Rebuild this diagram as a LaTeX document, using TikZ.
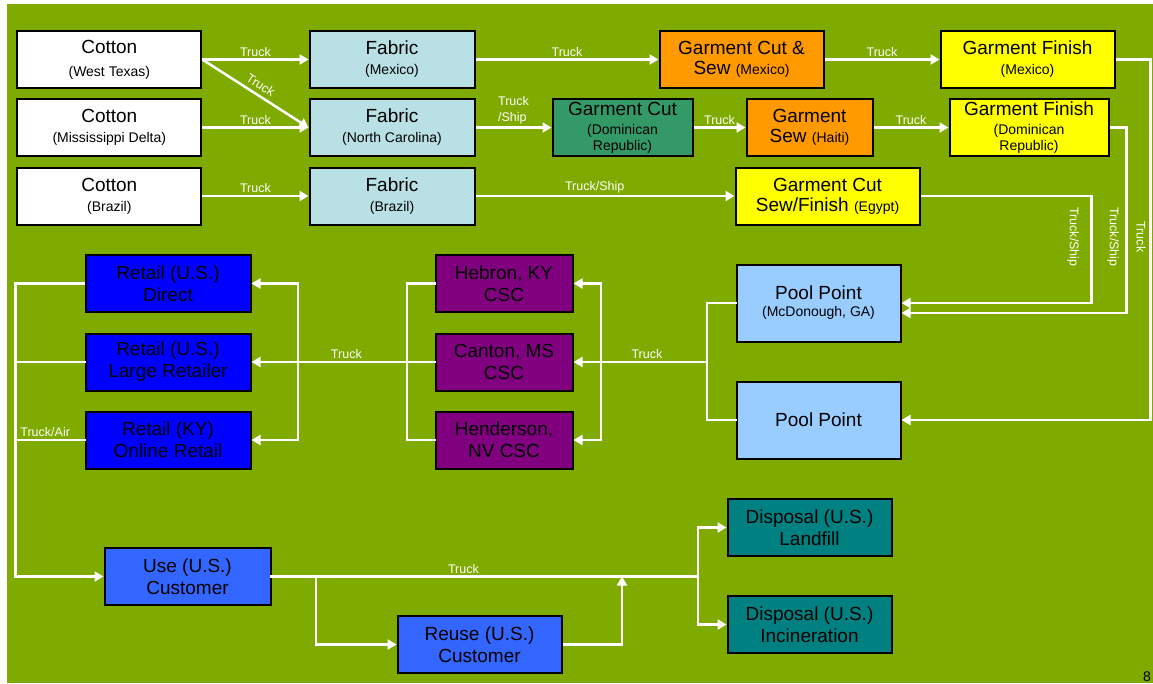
\documentclass[tikz,border=0pt]{standalone}
\usepackage{fontspec}
\setmainfont{Liberation Sans}
\usetikzlibrary{arrows.meta}
\definecolor{bg}{RGB}{127,170,0}
\definecolor{fabric}{RGB}{185,224,228}
\definecolor{orng}{RGB}{255,153,0}
\definecolor{yel}{RGB}{255,255,0}
\definecolor{dgreen}{RGB}{51,153,102}
\definecolor{pool}{RGB}{153,204,255}
\definecolor{purp}{RGB}{128,0,128}
\definecolor{rblue}{RGB}{0,0,255}
\definecolor{ublue}{RGB}{51,102,255}
\definecolor{teal2}{RGB}{0,128,128}
\newcommand\subt{\fontsize{14}{16}\selectfont}
\begin{document}
\begin{tikzpicture}[x=1pt,y=-1pt,
  box/.style={draw=black, line width=2pt, inner sep=0pt, align=center,
    font=\fontsize{19}{20}\selectfont, minimum height=57pt},
  flow/.style={draw=white, line width=2.5pt, -{Triangle[length=9pt,width=10pt]}},
  link/.style={draw=white, line width=2.5pt, line cap=rect},
  lbl/.style={text=white, font=\fontsize{12.5}{14}\selectfont, inner sep=2pt}]
\fill[white] (0,0) rectangle (1153,683);
\fill[bg] (7,4) rectangle (1153,683);
\useasboundingbox (0,0) rectangle (1153,683);

% nodes
\node[box, fill=white, minimum width=184] (cWT) at (109.3,59.5) {Cotton\\[3pt]{\subt (West Texas)}};
\node[box, fill=white, minimum width=184] (cMD) at (109.3,127.5) {Cotton\\{\subt (Mississippi Delta)}};
\node[box, fill=white, minimum width=184] (cBR) at (109.3,196) {Cotton\\{\subt (Brazil)}};
\node[box, fill=fabric, minimum width=165] (fMX) at (392,59.5) {Fabric\\{\subt (Mexico)}};
\node[box, fill=fabric, minimum width=165] (fNC) at (392,127.5) {Fabric\\{\subt (North Carolina)}};
\node[box, fill=fabric, minimum width=165] (fBR) at (392,196) {Fabric\\{\subt (Brazil)}};
\node[box, fill=orng, minimum width=164] (gcsMX) at (741.5,59.5) {Garment Cut \&\\Sew {\subt (Mexico)}};
\node[box, fill=yel, minimum width=174] (gfMX) at (1027.5,59.5) {Garment Finish\\{\subt (Mexico)}};
\node[box, fill=dgreen, minimum width=140] (gcDR) at (622.5,127.5) {Garment Cut\\[-1pt]{\subt (Dominican}\\[-4pt]{\subt Republic)}};
\node[box, fill=orng, minimum width=126] (gsHT) at (809.5,127.5) {Garment\\Sew {\subt (Haiti)}};
\node[box, fill=yel, minimum width=159] (gfDR) at (1029,127.5) {Garment Finish\\[-1pt]{\subt (Dominican}\\[-4pt]{\subt Republic)}};
\node[box, fill=yel, minimum width=184] (gEG) at (827.5,196) {Garment Cut\\Sew/Finish {\subt (Egypt)}};
\node[box, fill=pool, minimum width=164, minimum height=77] (pp1) at (818.5,303) {Pool Point\\[-3pt]{\subt (McDonough, GA)}};
\node[box, fill=pool, minimum width=164, minimum height=77] (pp2) at (818.5,420) {Pool Point};
\node[box, fill=purp, minimum width=137] (hebron) at (504,283.5) {Hebron, KY\\[2pt]CSC};
\node[box, fill=purp, minimum width=137] (canton) at (504,362) {Canton, MS\\[2pt]CSC};
\node[box, fill=purp, minimum width=137] (henderson) at (504,440) {Henderson,\\[2pt]NV CSC};
\node[box, fill=rblue, minimum width=165] (rDirect) at (168,283.5) {Retail (U.S.)\\[2pt]Direct};
\node[box, fill=rblue, minimum width=165] (rLarge) at (168,362) {Retail (U.S.)\\[2pt]Large Retailer};
\node[box, fill=rblue, minimum width=165] (rOnline) at (168,440) {Retail (KY)\\[2pt]Online Retail};
\node[box, fill=ublue, minimum width=166] (use) at (187.5,576.5) {Use (U.S.)\\[2pt]Customer};
\node[box, fill=ublue, minimum width=164] (reuse) at (479.5,644.5) {Reuse (U.S.)\\[2pt]Customer};
\node[box, fill=teal2, minimum width=164] (dLand) at (809.5,527.5) {Disposal (U.S.)\\[2pt]Landfill};
\node[box, fill=teal2, minimum width=164] (dInc) at (809.5,624.5) {Disposal (U.S.)\\[2pt]Incineration};
\node[font=\fontsize{14}{16}\selectfont, inner sep=0pt, anchor=base] (pgnum) at (1147,681) {8};

% coordinates
\coordinate (pj) at (707,362);
\coordinate (cv) at (601,362);
\coordinate (rj) at (407,362);
\coordinate (rv) at (298,362);
\coordinate (lb) at (15.5,576.5);
\coordinate (uj) at (316,576.5);
\coordinate (rr) at (622,576.5);
\coordinate (dj) at (698,576.5);

% top rows
\draw[flow] (cWT.east) -- node[lbl, above]{Truck} (fMX.west);
\draw[flow] (cWT.east) -- node[lbl, above=2pt, sloped]{Truck} (fNC.west);
\draw[flow] (cMD.east) -- node[lbl, above]{Truck} (fNC.west);
\draw[flow] (cBR.east) -- node[lbl, above]{Truck} (fBR.west);
\draw[flow] (fMX.east) -- node[lbl, above]{Truck} (gcsMX.west);
\draw[flow] (gcsMX.east) -- node[lbl, above]{Truck} (gfMX.west);
\draw[flow] (fNC.east) -- node[lbl, above, align=left, font=\fontsize{12.5}{16}\selectfont]{Truck\\/Ship} (gcDR.west);
\draw[flow] (gcDR.east) -- node[lbl, above]{Truck} (gsHT.west);
\draw[flow] (gsHT.east) -- node[lbl, above]{Truck} (gfDR.west);
\draw[flow] (fBR.east) -- node[lbl, above, pos=0.46]{Truck/Ship} (gEG.west);

% right returns
\draw[flow] (gEG.east) -- ++(171,0) |- (pp1.east);
\draw[flow] (gfDR.east) -- ++(17,0) |- ([yshift=-10pt]pp1.east);
\draw[flow] (gfMX.east) -- ++(35,0) |- (pp2.east);
\node[lbl, rotate=-90] (vl1) at (1073,237) {Truck/Ship};
\node[lbl, rotate=-90] (vl2) at (1113,237) {Truck/Ship};
\node[lbl, rotate=-90] (vl3) at (1141,237) {Truck};

% pool to CSC
\draw[link] (pp1.west) -| (pj) |- (pp2.west);
\draw[flow] (pj) -- node[lbl, above, pos=0.45]{Truck} (canton.east);
\draw[flow] (cv) |- (hebron.east);
\draw[flow] (cv) |- (henderson.east);

% CSC to retail
\draw[link] (hebron.west) -| (rj) |- (henderson.west);
\draw[link] (canton.west) -- (rj);
\draw[flow] (rj) -- node[lbl, above, pos=0.39]{Truck} (rLarge.east);
\draw[flow] (rv) |- (rDirect.east);
\draw[flow] (rv) |- (rOnline.east);

% retail to use
\draw[flow] (rDirect.west) -| (lb) -- (use.west);
\draw[link] (rLarge.west) -- (rLarge.west -| lb);
\draw[link] (rOnline.west) -- node[lbl, above, pos=0.57]{Truck/Air} (rOnline.west -| lb);

% use, reuse, disposal
\draw[link] (use.east) -- node[lbl, above, pos=0.45]{Truck} (dj);
\draw[flow] (uj) |- (reuse.west);
\draw[flow] (reuse.east) -| (rr);
\draw[flow] (dj) |- (dLand.west);
\draw[flow] (dj) |- (dInc.west);
\end{tikzpicture}
\end{document}
